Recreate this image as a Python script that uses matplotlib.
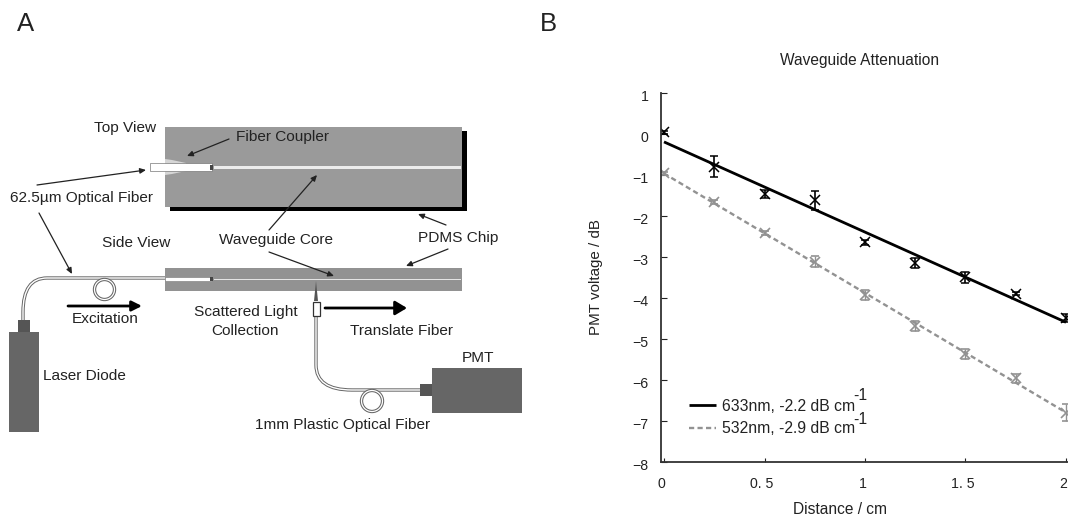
import matplotlib
matplotlib.use("Agg")
import matplotlib.pyplot as plt
from matplotlib.patches import Rectangle, Circle, Polygon, PathPatch
from matplotlib.path import Path
from matplotlib.transforms import ScaledTranslation

plt.rcParams['font.family'] = ['Liberation Sans', 'DejaVu Sans']

distance = [0, 0.25, 0.5, 0.75, 1, 1.25, 1.5, 1.75, 2]
v633 = [0.03, -0.8, -1.47, -1.62, -2.65, -3.15, -3.5, -3.9, -4.5]
e633 = [0.03, 0.25, 0.1, 0.23, 0.06, 0.12, 0.13, 0.04, 0.1]
v532 = [-0.97, -1.67, -2.42, -3.12, -3.93, -4.7, -5.37, -5.97, -6.8]
e532 = [0.03, 0.05, 0.05, 0.13, 0.13, 0.12, 0.13, 0.12, 0.2]
fit_x = [0.0, 2.0]
fit633 = [-0.2, -4.6]
fit532 = [-0.97, -6.8]
xticks = [0, 0.5, 1, 1.5, 2]
xticklabels = ['0', '0. 5', '1', '1. 5', '2']
yticks = [1, 0, -1, -2, -3, -4, -5, -6, -7, -8]
yticklabels = ['1', '0', '\u22121', '\u22122', '\u22123', '\u22124', '\u22125', '\u22126', '\u22127', '\u22128']

W, H = 1068, 517
fig = plt.figure(figsize=(W / 100, H / 100), dpi=100)

# ---------- panel A: schematic, in pixel coordinates ----------
d = fig.add_axes([0, 0, 1, 1])
d.set_xlim(0, W)
d.set_ylim(H, 0)
d.axis('off')

CHIP = '#9a9a9a'
CHIP2 = '#929292'
DARK = '#666666'
TXT = '#222222'
d.add_patch(Rectangle((170, 131), 297, 80, fc='black', ec='none'))
d.add_patch(Rectangle((165, 127), 297, 80, fc=CHIP, ec='none'))
d.add_patch(Polygon([(165, 159), (172, 160), (186, 163), (186, 171), (172, 174), (165, 175)], fc='#d6d6d6', ec='none'))
d.add_patch(Rectangle((150, 163), 62, 8, fc='white', ec='#777777', lw=0.5))
d.add_patch(Rectangle((210, 165), 3, 5, fc='#444444', ec='none'))
d.add_patch(Rectangle((214, 166), 247, 2.5, fc='#ececec', ec='none'))

d.add_patch(Rectangle((165, 268), 297, 23, fc=CHIP2, ec='none'))
d.add_patch(Rectangle((165, 277), 47, 4, fc='white', ec='#777777', lw=0.4))
d.add_patch(Rectangle((210, 277), 3, 4, fc='#444444', ec='none'))
d.add_patch(Rectangle((214, 278.7), 247, 1.6, fc='#e4e4e4', ec='none'))


def fiber(verts, codes):
    p = Path(verts, codes)
    d.add_patch(PathPatch(p, fc='none', ec='#666666', lw=2.4, capstyle='butt'))
    d.add_patch(PathPatch(p, fc='none', ec='white', lw=1.0, capstyle='butt'))


M, L, C = Path.MOVETO, Path.LINETO, Path.CURVE3
fiber([(23, 320), (23, 312), (23, 278), (47, 278), (165, 278)], [M, L, C, C, L])
fiber([(316, 317), (316, 365), (316, 390), (352, 390), (420, 390)], [M, L, C, C, L])
for cx, cy, r in [(104.5, 289.5, 10), (372, 401, 10.5)]:
    d.add_patch(Circle((cx, cy), r, fc='none', ec='#666666', lw=2.4))
    d.add_patch(Circle((cx, cy), r, fc='none', ec='white', lw=0.9))

d.add_patch(Rectangle((9, 332), 30, 100, fc=DARK, ec='none'))
d.add_patch(Rectangle((18, 320), 12, 12, fc='#555555', ec='none'))
d.add_patch(Rectangle((432, 368), 90, 45, fc=DARK, ec='none'))
d.add_patch(Rectangle((420, 384), 12, 12, fc='#555555', ec='none'))
d.add_patch(Rectangle((312.5, 302), 7, 13.5, fc='white', ec='#333333', lw=0.9))
d.add_patch(Polygon([(314, 301), (316, 281), (318, 301)], fc='#555555', ec='none'))

for (x1, y1, x2, y2) in [
    (229, 139, 187, 156), (37, 185, 146, 170), (39, 213, 72, 274),
    (269, 230, 317, 175), (269, 252, 334, 276), (446, 225, 418, 214),
    (448, 249, 406, 266),
]:
    d.annotate('', xy=(x2, y2), xytext=(x1, y1),
               arrowprops=dict(arrowstyle='-|>,head_length=0.35,head_width=0.16', color='#222222', lw=0.9,
                               shrinkA=0, shrinkB=0))
for (x1, y1, x2, y2, hl, hw) in [(68, 306, 142, 306, 0.6, 0.3), (325, 308, 407, 308, 0.7, 0.42)]:
    d.annotate('', xy=(x2, y2), xytext=(x1, y1),
               arrowprops=dict(arrowstyle=f'-|>,head_length={hl},head_width={hw}', color='black', lw=2.0,
                               shrinkA=0, shrinkB=0))

labels = [
    (125, 128, 'Top View'), (282, 137, 'Fiber Coupler'), (81, 198, '62.5\u00b5m Optical Fiber'),
    (136, 243, 'Side View'), (276, 240, 'Waveguide Core'), (458, 238, 'PDMS Chip'),
    (105, 319, 'Excitation'), (245.5, 312, 'Scattered Light'), (245.5, 331, 'Collection'),
    (402, 331, 'Translate Fiber'), (84, 376, 'Laser Diode'), (478, 358, 'PMT'),
    (343, 425, '1mm Plastic Optical Fiber'),
]
for x, y, s in labels:
    d.text(x, y, s, ha='center', va='center', fontsize=11.1, color=TXT)
d.text(25.5, 24, 'A', ha='center', va='center', fontsize=18.5, color=TXT)
d.text(548, 24, 'B', ha='center', va='center', fontsize=18.5, color=TXT)

# ---------- panel B: attenuation plot ----------
L0, R0, T0, B0 = 661, 1068, 92.7, 461.7
ax = fig.add_axes([L0 / W, 1 - B0 / H, (R0 - L0) / W, (B0 - T0) / H])
ax.patch.set_alpha(0)
ax.set_xlim(-3 / 200.7, 2 + 2 / 200.7)
ax.set_ylim(-8, 1)

GREY = '#929292'
l1, = ax.plot(fit_x, fit633, color='black', lw=2.0, solid_capstyle='butt', label='633nm, -2.2 dB cm')
l2, = ax.plot(fit_x, fit532, color=GREY, lw=1.7, ls=(0, (2.2, 1.4)), label='532nm, -2.9 dB cm')
ax.errorbar(distance, v633, yerr=e633, fmt='x', color='black', ms=7.5, mew=1.1, elinewidth=1.2,
            capsize=3, capthick=1.3, label='_nolegend_')
ax.errorbar(distance, v532, yerr=e532, fmt='x', color=GREY, ms=7.5, mew=1.2, elinewidth=1.0,
            capsize=3, capthick=1.0, label='_nolegend_')

for s in ['top', 'right']:
    ax.spines[s].set_visible(False)
for s in ['left', 'bottom']:
    ax.spines[s].set_linewidth(1.3)
    ax.spines[s].set_color('#333333')
ax.set_xticks(xticks, xticklabels)
ax.set_yticks(yticks, yticklabels)
ax.tick_params(axis='x', direction='in', length=3, width=0.8, pad=11, labelsize=10.2, colors='#222222')
ax.tick_params(axis='y', direction='in', length=4, width=0.8, pad=9, labelsize=10.2, colors='#222222')
for t in ax.get_xticklabels():
    t.set_transform(t.get_transform() + ScaledTranslation(-2.5 / 100, 0, fig.dpi_scale_trans))
for t in ax.get_yticklabels():
    t.set_transform(t.get_transform() + ScaledTranslation(0, -2.5 / 100, fig.dpi_scale_trans))

leg = ax.legend(handles=[l1, l2], loc='lower left', frameon=False, fontsize=11.3, handlelength=1.75,
                handletextpad=0.37, labelspacing=0.45, borderpad=0, borderaxespad=0,
                bbox_to_anchor=(689 / W, 1 - 436 / H), bbox_transform=fig.transFigure, labelcolor='#222222')
for yy in (396, 420):
    fig.text(860.5 / W, 1 - yy / H, '-1', ha='center', va='center', fontsize=11.3, color=TXT)

fig.text(860 / W, 1 - 60 / H, 'Waveguide Attenuation', ha='center', va='center', fontsize=11.2, color=TXT)
fig.text(840 / W, 1 - 510 / H, 'Distance / cm', ha='center', va='center', fontsize=11.2, color=TXT)
fig.text(596 / W, 1 - 277 / H, 'PMT voltage / dB', ha='center', va='center', rotation=90, fontsize=10.9, color=TXT)

fig.savefig('out.png', dpi=100)
